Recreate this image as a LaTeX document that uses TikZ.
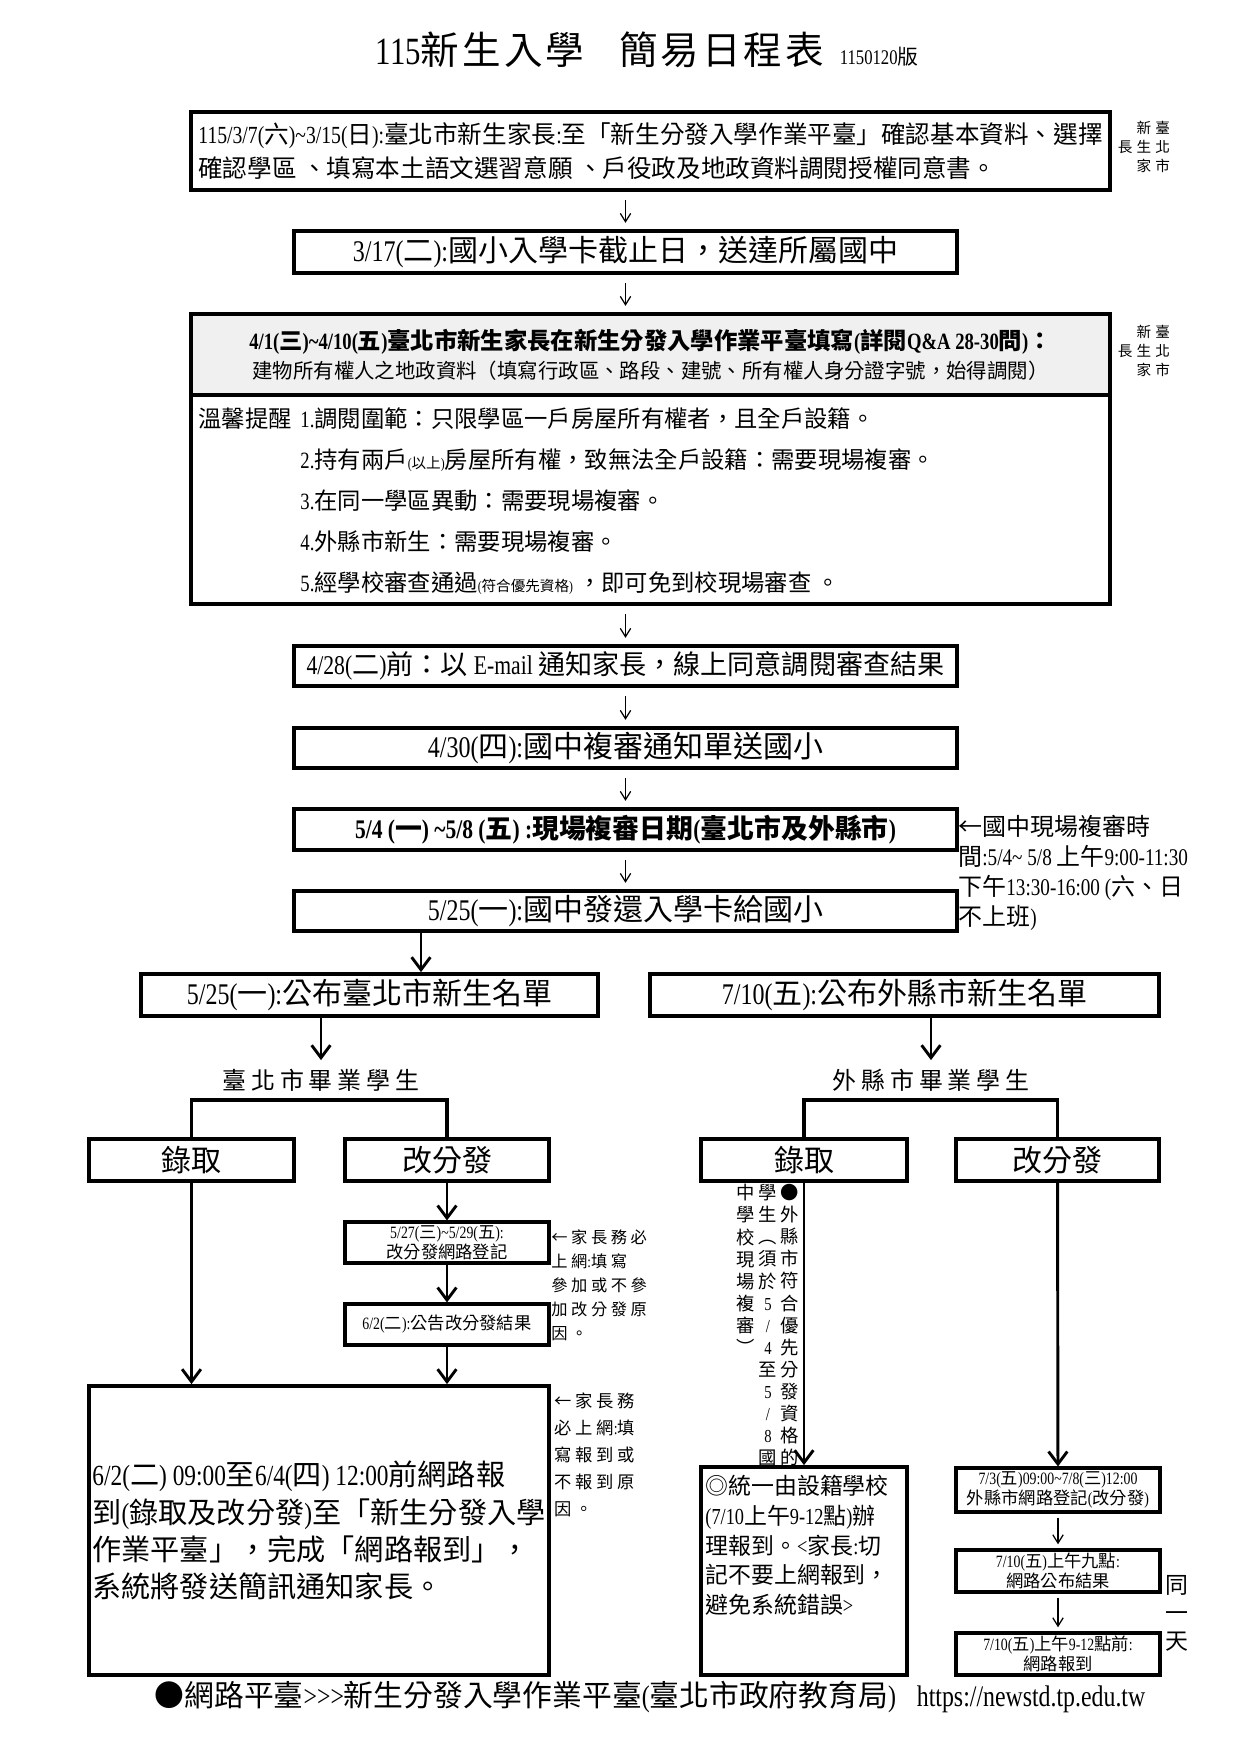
\documentclass[tikz,border=0pt]{standalone}
\usepackage{fontspec}
\usepackage{xcolor}
\usepackage{tikz}
\usetikzlibrary{arrows.meta,positioning,calc}
\setmainfont{Liberation Serif}[FakeStretch=0.8]
\newfontfamily\cjkfont{Noto Sans CJK TC}
\newfontfamily\notecjk{Noto Sans CJK TC}[LetterSpace=22]
\newfontfamily\gradcjk{Noto Sans CJK TC}[LetterSpace=20]
\newfontfamily\titlecjk{Noto Sans CJK TC}[LetterSpace=8]
\definecolor{headgray}{RGB}{240,240,240}
\newdimen\pxu
\pxu=0.48pt

% CJK characters are set in Noto, everything else stays in Liberation Serif
\newXeTeXintercharclass\cjkclass
\newcount\cjkcnt
\newcommand{\cjkrange}[2]{%
  \cjkcnt=#1\relax
  \loop
    \XeTeXcharclass\cjkcnt=\cjkclass
  \ifnum\cjkcnt<#2\relax
    \advance\cjkcnt by 1\relax
  \repeat}
\cjkrange{"2190}{"21FF}
\cjkrange{"25A0}{"25FF}
\cjkrange{"2E80}{"9FFF}
\cjkrange{"FE30}{"FE4F}
\cjkrange{"FF00}{"FFEF}
\XeTeXinterchartoks 0 \cjkclass = {\cjkfont}
\XeTeXinterchartoks 4095 \cjkclass = {\cjkfont}
\XeTeXinterchartoks \cjkclass 0 = {\rmfamily}
\XeTeXinterchartoks 4095 0 = {\rmfamily}
\XeTeXinterchartokenstate=1

\newcommand{\tpparent}{\begin{tabular}{@{}c@{\hspace{2pt}}c@{\hspace{2pt}}c@{}}
 & 新 & 臺\\ 長 & 生 & 北\\ & 家 & 市\end{tabular}}

\begin{document}
\begin{tikzpicture}[
    x=0.48pt, y=-0.48pt,
    sz/.style 2 args={minimum width=#1*\pxu, minimum height=#2*\pxu},
    box/.style={draw, line width=1.8pt, inner sep=0pt, align=center},
    smallbox/.style={draw, line width=1.5pt, inner sep=0pt, align=center, font=\fontsize{8.3}{9.8}\selectfont},
    big/.style={font=\fontsize{14.4}{17}\selectfont},
    thinarr/.style={line width=0.6pt, -{Straight Barb[length=4pt,width=5pt]}, shorten <=4pt, shorten >=3pt},
    arr/.style={line width=1.4pt, -{Straight Barb[length=6pt,width=9pt]}},
    bar/.style={line width=1.8pt},
    note/.style={anchor=north west, align=left, inner sep=0pt},
    vcol/.style={anchor=north, align=center, inner sep=0pt, font=\fontsize{8.8}{10.6}\selectfont},
    parent/.style={inner sep=0pt, font=\fontsize{7}{9.1}\selectfont},
    grad/.style={inner sep=2pt, font=\let\cjkfont\gradcjk\fontsize{11.5}{13}\selectfont}
  ]
  \path[use as bounding box, fill=white] (0,0) rectangle (1240,1754);

  \node[font=\let\cjkfont\titlecjk\fontsize{18.5}{21}\selectfont] (title) at (600,50) {115新生入學\hspace{0.9em}簡易日程表};
  \node[anchor=base west, inner sep=0pt, font=\fontsize{10}{12}\selectfont] (version) at ($(title.base east)+(8,0)$) {1150120版};

  % main column
  \node[box, sz={919}{78}, align=left, font=\fontsize{11.8}{16.3}\selectfont] (confirm) at (650.5,151) {115/3/7(六)\textasciitilde 3/15(日):臺北市新生家長:至「新生分發入學作業平臺」確認基本資料、選擇\\確認學區 、填寫本土語文選習意願 、戶役政及地政資料調閱授權同意書。};
  \node[parent] (tpparentA) at (1144,149) {\tpparent};

  \node[box, big, sz={663}{42}] (carddue) at (625.5,252) {3/17(二):國小入學卡截止日，送達所屬國中};

  \node[box, sz={919}{81}, fill=headgray, font=\fontsize{11.2}{14}\selectfont] (landhead) at (650.5,354.5) {\textbf{4/1(三)\textasciitilde 4/10(五)臺北市新生家長在新生分發入學作業平臺填寫(詳閱Q\&A 28-30問)：}\\{\fontsize{9.8}{14}\selectfont 建物所有權人之地政資料（填寫行政區、路段、建號、所有權人身分證字號，始得調閱）}};
  \node[box, sz={919}{209}] (landbox) at (650.5,499.5) {};
  \node[parent] (tpparentB) at (1144,353) {\tpparent};
  \node[anchor=west, inner sep=0pt, font=\fontsize{11.2}{14}\selectfont] (warm) at (198,419) {溫馨提醒};
  \foreach \i/\txt in {1/{1.調閱圍範：只限學區一戶房屋所有權者，且全戶設籍。},
                       2/{2.持有兩戶{\fontsize{7}{8}\selectfont(以上)}房屋所有權，致無法全戶設籍：需要現場複審。},
                       3/{3.在同一學區異動：需要現場複審。},
                       4/{4.外縣市新生：需要現場複審。},
                       5/{5.經學校審查通過{\fontsize{7}{8}\selectfont(符合優先資格)} ，即可免到校現場審查 。}}
    \node[anchor=west, inner sep=0pt, font=\fontsize{11.2}{14}\selectfont] (tip\i) at (300,378+41*\i) {\txt};

  \node[box, sz={663}{40}, font=\fontsize{13}{15}\selectfont] (mailres) at (625.5,666) {4/28(二)前：以 E-mail 通知家長，線上同意調閱審查結果};
  \node[box, big, sz={663}{40}] (notice) at (625.5,748) {4/30(四):國中複審通知單送國小};
  \node[box, sz={663}{41}, font=\fontsize{12.9}{15}\selectfont\bfseries] (onsite) at (625.5,829.5) {5/4 (一) \textasciitilde 5/8 (五) :現場複審日期(臺北市及外縣市)};
  \node[note, font=\fontsize{11.5}{14.4}\selectfont] (onsitetime) at (958,815) {←國中現場複審時\\間:5/4\textasciitilde{} 5/8 上午9:00-11:30\\下午13:30-16:00 (六、日\\不上班)};
  \node[box, big, sz={663}{40}] (cardback) at (625.5,911) {5/25(一):國中發還入學卡給國小};

  \draw[thinarr] (confirm.south -| carddue.north) -- (carddue.north);
  \draw[thinarr] (carddue.south) -- (landhead.north -| carddue.south);
  \draw[thinarr] (landbox.south -| carddue.south) -- (mailres.north);
  \foreach \a/\b in {mailres/notice, notice/onsite, onsite/cardback}
    \draw[thinarr] (\a) -- (\b);

  % the two name lists
  \node[box, big, sz={457}{42}] (tplist) at (369.5,995) {5/25(一):公布臺北市新生名單};
  \node[box, big, sz={509}{42}] (olist) at (904.5,995) {7/10(五):公布外縣市新生名單};
  \coordinate (split) at (421,0);
  \draw[arr] (cardback.south -| split) -- (tplist.north -| split);

  \node[grad] (tpgrad) at (321,1080) {臺北市畢業學生};
  \node[grad] (ograd) at (931,1080) {外縣市畢業學生};
  \draw[arr, shorten >=2pt] (tplist.south -| tpgrad) -- (tpgrad.north);
  \draw[arr, shorten >=2pt] (olist.south -| ograd) -- (ograd.north);

  \node[box, big, sz={205}{42}] (tpadm) at (191.5,1160) {錄取};
  \node[box, big, sz={204}{42}] (tpre) at (447,1160) {改分發};
  \node[box, big, sz={206}{42}] (oadm) at (804,1160) {錄取};
  \node[box, big, sz={203}{42}] (ore) at (1057.5,1160) {改分發};
  \coordinate (fork) at (0,1100);
  \draw[bar] (tpadm.north) -- (tpadm.north |- fork) -- (tpre.north |- fork) -- (tpre.north);
  \draw[bar] (oadm.north) -- (oadm.north |- fork) -- (ore.north |- fork) -- (ore.north);

  % taipei branch
  \node[smallbox, sz={204}{41}] (tpreg) at (447,1242.5) {5/27(三)\textasciitilde 5/29(五):\\改分發網路登記};
  \node[smallbox, sz={204}{41}, font=\fontsize{8.3}{10}\selectfont] (tpres) at (447,1324.5) {6/2(二):公告改分發結果};
  \node[note, font=\let\cjkfont\notecjk\fontsize{7.8}{11.5}\selectfont] (regnote) at (551,1229) {←家長務必\\上網:填寫\\參加或不參\\加改分發原\\因。};
  \node[box, sz={460}{289}, align=left, font=\fontsize{14}{17.8}\selectfont] (tpreport) at (319,1530.5) {6/2(二) 09:00至6/4(四) 12:00前網路報\\到(錄取及改分發)至「新生分發入學\\作業平臺」，完成「網路報到」，\\系統將發送簡訊通知家長。};
  \node[note, font=\let\cjkfont\notecjk\fontsize{8.3}{13}\selectfont] (repnote) at (554,1392) {←家長務\\必上網:填\\寫報到或\\不報到原\\因。};
  \draw[arr] (tpadm) -- (tpreport.north -| tpadm);
  \draw[arr] (tpre) -- (tpreg);
  \draw[arr] (tpreg) -- (tpres);
  \draw[arr] (tpres) -- (tpreport.north -| tpres);

  % other counties branch
  \node[vcol] (vright) at (790,1184) {●\\外\\縣\\市\\符\\合\\優\\先\\分\\發\\資\\格\\的};
  \node[vcol] (vmid) at (768,1184) {學\\生\\︵\\須\\於\\5\\/\\4\\至\\5\\/\\8\\國};
  \node[vcol] (vleft) at (746,1184) {中\\學\\校\\現\\場\\複\\審\\︶};
  \node[box, sz={206}{208}] (orep) at (804,1571) {};
  \node[note, font=\fontsize{11}{14.2}\selectfont] (oreptext) at (705,1475) {◎統一由設籍學校\\(7/10上午9-12點)辦\\理報到。<家長:切\\記不要上網報到，\\避免系統錯誤>};
  \node[smallbox, sz={204}{44}] (oreg) at (1058,1490) {7/3(五)09:00\textasciitilde 7/8(三)12:00\\外縣市網路登記(改分發)};
  \node[smallbox, sz={204}{42}] (ores) at (1058,1571) {7/10(五)上午九點:\\網路公布結果};
  \node[smallbox, sz={204}{42}] (onet) at (1058,1654) {7/10(五)上午9-12點前:\\網路報到};
  \node[align=center, font=\fontsize{11}{13.4}\selectfont] (sameday) at (1177,1613) {同\\一\\天};
  \draw[arr] (oadm) -- (orep);
  \draw[arr] (ore) -- (oreg);
  \draw[thinarr, shorten <=2pt, shorten >=2pt] (oreg) -- (ores);
  \draw[thinarr, shorten <=2pt, shorten >=2pt] (ores) -- (onet);

  \node[font=\fontsize{14.3}{16}\selectfont] (site) at (650,1697) {●網路平臺>{}>{}>新生分發入學作業平臺(臺北市政府教育局)\hspace{0.7em}https://newstd.tp.edu.tw};
\end{tikzpicture}
\end{document}
